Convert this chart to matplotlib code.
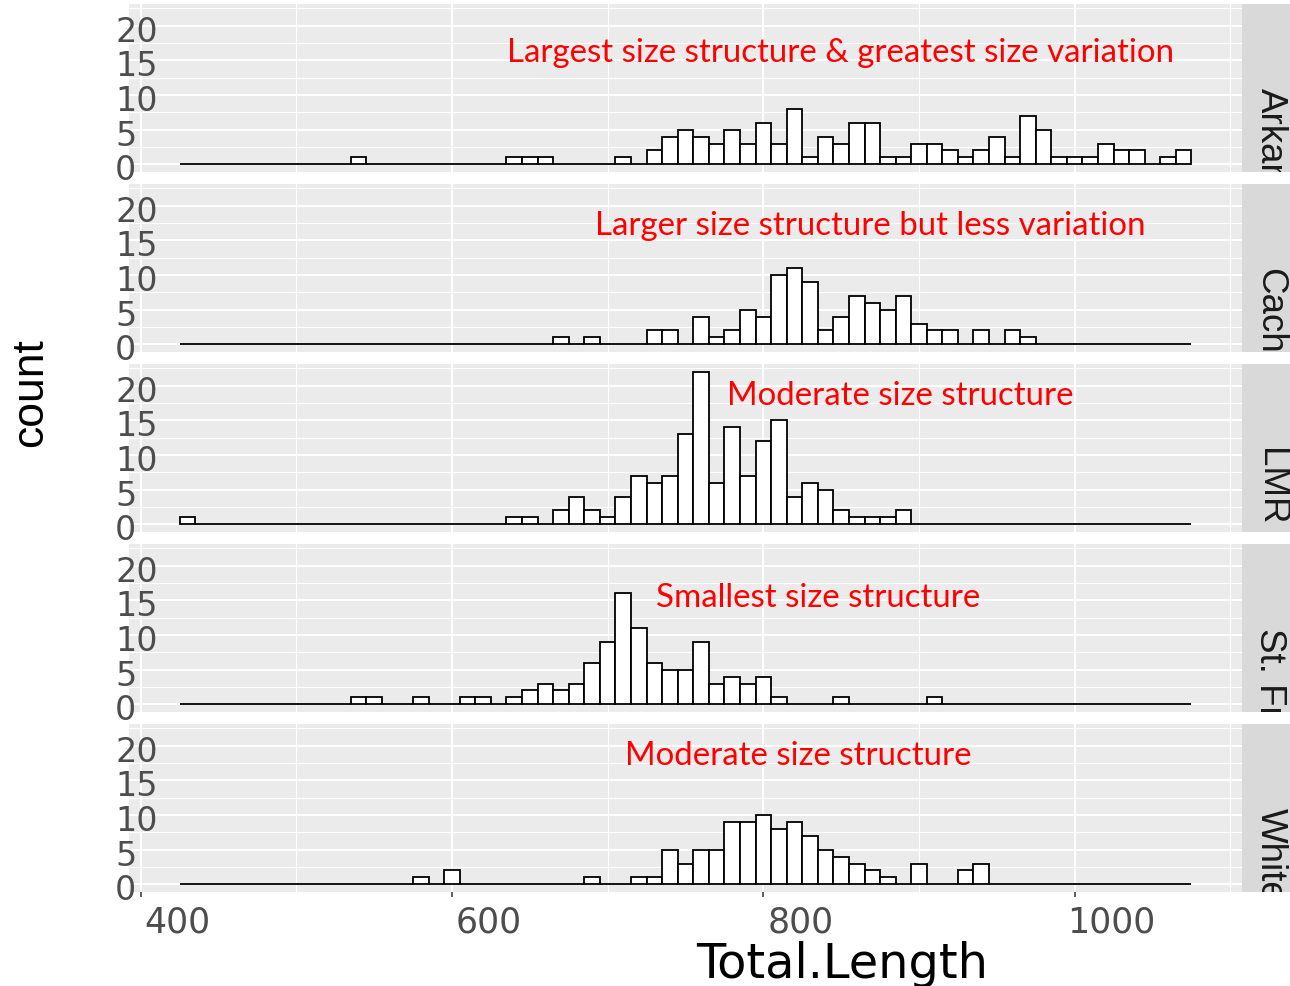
import numpy as np
import matplotlib.pyplot as plt
from matplotlib import transforms

# fish total length histograms, one panel per river (binwidth 10, first bin starts at 425)
rivers = ["Arkansas", "Cache", "LMR", "St. Francis", "White"]
notes = [
    "Largest size structure & greatest size variation",
    "Larger size structure but less variation",
    "Moderate size structure",
    "Smallest size structure",
    "Moderate size structure",
]
bin_start = 425
bin_width = 10

arkansas = [0, 0, 0, 0, 0, 0, 0, 0, 0, 0,
            0, 1, 0, 0, 0, 0, 0, 0, 0, 0,
            0, 1, 1, 1, 0, 0, 0, 0, 1, 0,
            2, 4, 5, 4, 3, 5, 3, 6, 3, 8,
            1, 4, 3, 6, 6, 1, 1, 3, 3, 2,
            1, 2, 4, 1, 7, 5, 1, 1, 1, 3,
            2, 2, 0, 1, 2]
cache = [0, 0, 0, 0, 0, 0, 0, 0, 0, 0,
         0, 0, 0, 0, 0, 0, 0, 0, 0, 0,
         0, 0, 0, 0, 1, 0, 1, 0, 0, 0,
         2, 2, 0, 4, 1, 2, 5, 4, 10, 11,
         9, 2, 4, 7, 6, 5, 7, 3, 2, 2,
         0, 2, 0, 2, 1, 0, 0, 0, 0, 0,
         0, 0, 0, 0, 0]
lmr = [1, 0, 0, 0, 0, 0, 0, 0, 0, 0,
       0, 0, 0, 0, 0, 0, 0, 0, 0, 0,
       0, 1, 1, 0, 2, 4, 2, 1, 4, 7,
       6, 7, 13, 22, 6, 14, 7, 12, 15, 4,
       6, 5, 2, 1, 1, 1, 2, 0, 0, 0,
       0, 0, 0, 0, 0, 0, 0, 0, 0, 0,
       0, 0, 0, 0, 0]
st_francis = [0, 0, 0, 0, 0, 0, 0, 0, 0, 0,
              0, 1, 1, 0, 0, 1, 0, 0, 1, 1,
              0, 1, 2, 3, 2, 3, 6, 9, 16, 11,
              6, 5, 5, 9, 3, 4, 3, 4, 1, 0,
              0, 0, 1, 0, 0, 0, 0, 0, 1, 0,
              0, 0, 0, 0, 0, 0, 0, 0, 0, 0,
              0, 0, 0, 0, 0]
white = [0, 0, 0, 0, 0, 0, 0, 0, 0, 0,
         0, 0, 0, 0, 0, 1, 0, 2, 0, 0,
         0, 0, 0, 0, 0, 0, 1, 0, 0, 1,
         1, 5, 3, 5, 5, 9, 9, 10, 8, 9,
         7, 5, 4, 3, 2, 1, 0, 3, 0, 0,
         2, 3, 0, 0, 0, 0, 0, 0, 0, 0,
         0, 0, 0, 0, 0]
all_counts = [arkansas, cache, lmr, st_francis, white]

centers = bin_start + bin_width / 2 + bin_width * np.arange(len(arkansas))

W, H = 1290, 986
fig = plt.figure(figsize=(W / 100, H / 100), dpi=100)

# where each note sits (left edge, baseline) in pixels
note_pos = [(507, 62), (595, 235), (727, 405), (656, 607), (625, 765)]

for i, (name, counts) in enumerate(zip(rivers, all_counts)):
    top = 4 + 180 * i
    ax = fig.add_axes([129 / W, 1 - (top + 168) / H, 1113 / W, 168 / H])
    ax.set_facecolor("#EBEBEB")
    ax.bar(centers, counts, width=bin_width, color="white", edgecolor="black",
           linewidth=1.3, zorder=3)
    ax.set_xlim(392.5, 1107.5)
    ax.set_ylim(-1.1, 23.1)
    ax.set_xticks([400, 600, 800, 1000])
    ax.set_xticks([500, 700, 900, 1100], minor=True)
    ax.set_yticks([0, 5, 10, 15, 20])
    ax.set_yticks([2.5, 7.5, 12.5, 17.5, 22.5], minor=True)
    ax.grid(which="major", color="white", linewidth=1.4)
    ax.grid(which="minor", color="white", linewidth=0.8)
    ax.set_axisbelow(True)
    for s in ax.spines.values():
        s.set_visible(False)
    ax.tick_params(which="minor", length=0)
    ax.tick_params(axis="y", length=0, pad=10, labelsize=24, labelcolor="#4D4D4D")
    for lab in ax.get_yticklabels():
        lab.set_horizontalalignment("left")
        lab.set_transform(lab.get_transform() +
                          transforms.ScaledTranslation(0, -0.03, fig.dpi_scale_trans))
    if i < 4:
        ax.tick_params(axis="x", length=0, labelbottom=False)
    else:
        ax.tick_params(axis="x", length=3.6, width=1.1, color="#333333", pad=6,
                       labelsize=25, labelcolor="#4D4D4D")
        for lab in ax.get_xticklabels():
            lab.set_transform(lab.get_transform() +
                              transforms.ScaledTranslation(0.37, 0, fig.dpi_scale_trans))

    # facet strip on the right
    strip = fig.add_axes([1242 / W, 1 - (top + 168) / H, 60 / W, 168 / H])
    strip.set_facecolor("#D9D9D9")
    strip.set_xticks([])
    strip.set_yticks([])
    for s in strip.spines.values():
        s.set_visible(False)
    strip.text(28 / 60, 0.5, name, transform=strip.transAxes, rotation=270,
               rotation_mode="anchor", ha="left", va="center", fontsize=26.5,
               family="Liberation Sans", color="#1A1A1A", clip_on=True)

    nx, ny = note_pos[i]
    fig.text(nx / W, 1 - ny / H, notes[i], color="red", fontsize=23.8,
             family="Lato", ha="left", va="baseline")

fig.text(31 / W, 1 - 393 / H, "count", rotation=90, ha="center", va="center",
         fontsize=32, family="Liberation Sans", color="black")
fig.text(842 / W, 1 - 978 / H, "Total.Length", ha="center", va="baseline",
         fontsize=34.5, color="black")

fig.savefig("out.png", dpi=100)
